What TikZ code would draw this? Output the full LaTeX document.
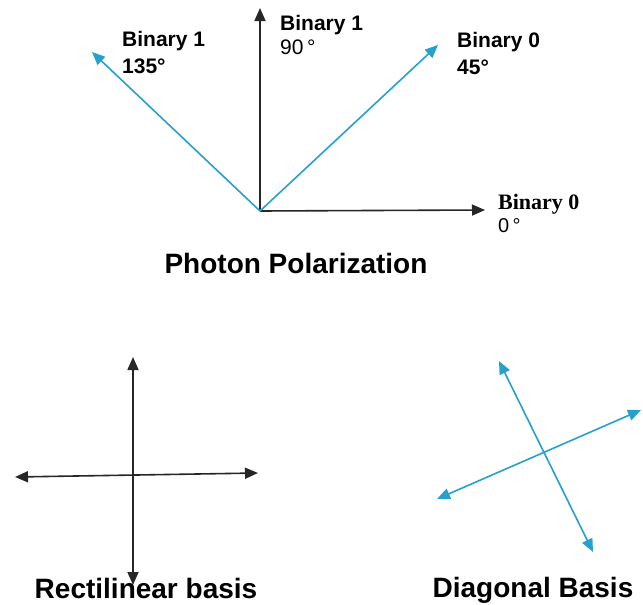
\documentclass[tikz,border=0pt]{standalone}
\usepackage{fontspec}
\setmainfont{Liberation Sans}
\newfontfamily\timesfont{Liberation Serif}
\usetikzlibrary{arrows.meta}
\definecolor{cblue}{RGB}{38,160,205}

\begin{document}
\begin{tikzpicture}[x=1pt,y=-1pt,>={Triangle[length=13pt,width=11pt]},
lbl/.style={font=\fontsize{21}{27}\selectfont\bfseries,align=left,anchor=north west,inner sep=0pt},
title/.style={font=\fontsize{28}{32}\selectfont\bfseries,anchor=base,inner sep=0pt},
blk/.style={->,line width=1.6pt,black!85},
blu/.style={->,line width=1.6pt,cblue}]
\useasboundingbox (0,0) rectangle (643,605);
% photon polarization
\coordinate (o) at (260,211);
\coordinate (a0) at (485,210);
\coordinate (a90) at (260,8);
\coordinate (a45) at (438,45);
\coordinate (a135) at (92,52);
\draw[blk] (o)--(a90);
\draw[blk] (o)--(a0);
\draw[blu] (o)--(a45);
\draw[blu] (o)--(a135);
\node[lbl] (l135) at (122,31) {Binary 1\\135°};
\node[lbl] (l90) at (280,15) {Binary 1\\[-3pt]{\mdseries 90\,°}};
\node[lbl] (l45) at (457,32) {Binary 0\\45°};
\node[lbl,font=\fontsize{22}{23}\selectfont\timesfont\bfseries] (l0) at (498,194) {Binary 0\\{\fontsize{20}{23}\selectfont\rmfamily\mdseries 0\,°}};
\node[title] (pol) at (296,273) {Photon Polarization};
% rectilinear basis
\coordinate (rt) at (133,357);
\coordinate (rb) at (133,585);
\coordinate (rl) at (15,477);
\coordinate (rr) at (258,473);
\draw[blk,<->] (rb)--(rt);
\draw[blk,<->] (rl)--(rr);
\node[title] (rect) at (146,598) {Rectilinear basis};
% diagonal basis
\coordinate (dt) at (499,361);
\coordinate (db) at (593,552);
\coordinate (dl) at (437,499);
\coordinate (dr) at (641,410);
\draw[blu,<->] (db)--(dt);
\draw[blu,<->] (dl)--(dr);
\node[title] (diag) at (533,597) {Diagonal Basis};
\end{tikzpicture}
\end{document}
